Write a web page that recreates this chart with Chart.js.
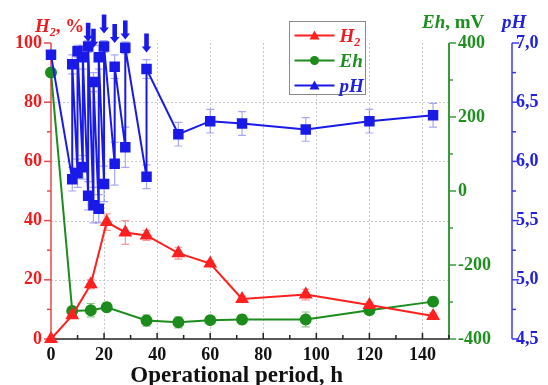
<!DOCTYPE html>
<html>
<head>
<meta charset="utf-8">
<script src="https://cdn.jsdelivr.net/npm/chart.js@4"></script>
<style>
html,body{margin:0;padding:0;background:#fff;}
#wrap{width:548px;height:385px;position:relative;}
</style>
</head>
<body>
<div id="wrap"><canvas id="c" width="548" height="385"></canvas></div>
<script>
// ---- data ----
const h2Time  = [0, 8, 15, 21, 28, 36, 48, 60, 72, 96, 120, 144];
const h2Value = [0, 8, 18.5, 39.5, 36, 35, 29, 25.5, 13.5, 15, 11.5, 7.8];
const h2Error = [0, 1, 1.5, 2.8, 4, 1.7, 2, 1, 1, 1.8, 1, 1];

const ehTime  = [0, 8, 15, 21, 36, 48, 60, 72, 96, 120, 144];
const ehValue = [320, -324, -322, -314, -350, -355, -349, -347, -347, -322, -299];
const ehError = [0, 8, 18, 12, 15, 15, 10, 12, 20, 10, 12];

const phTime  = [0, 8, 8, 10, 10, 12, 12, 14, 14, 16, 16, 18, 18, 20, 20, 24, 24, 28, 28, 36, 36, 48, 60, 72, 96, 120, 144];
const phValue = [6.90, 5.85, 6.82, 5.90, 6.93, 5.95, 6.88, 5.71, 6.97, 5.63, 6.67, 5.60, 6.88, 5.81, 6.97, 5.98, 6.80, 6.12, 6.96, 5.87, 6.78, 6.23, 6.34, 6.32, 6.27, 6.34, 6.39];
const phError = [0.03, 0.1, 0.08, 0.12, 0.05, 0.1, 0.1, 0.12, 0.05, 0.15, 0.08, 0.12, 0.1, 0.15, 0.05, 0.18, 0.1, 0.17, 0.05, 0.1, 0.08, 0.1, 0.1, 0.1, 0.1, 0.1, 0.1];

// alkali additions (arrows): time and arrow tip level on pH scale
const alkaliTime = [14, 16, 20, 24, 28, 36];
const arrowTipPH = [7.01, 6.96, 7.08, 7.00, 7.03, 6.92];

const xTicks  = [0, 20, 40, 60, 80, 100, 120, 140];
const h2Ticks = [0, 20, 40, 60, 80, 100];
const ehTicks = [-400, -200, 0, 200, 400];
const phTicks = [4.5, 5.0, 5.5, 6.0, 6.5, 7.0];

// ---- styles ----
const RED = '#ff2020', GREEN = '#1c8c1c', BLUE = '#1a1ae8';
const RED_AX = '#e8484a', GREEN_AX = '#3a9a3a', BLUE_AX = '#3a3af0';
const SERIF = "'Liberation Serif', 'Times New Roman', serif";
const tickFont = {family: SERIF, size: 18, weight: 'bold'};

const pts = (t, v) => t.map((x, i) => ({x: x, y: v[i]}));

function drawRich(ctx, x, y, parts, align) {
  let w = 0;
  parts.forEach(p => { ctx.font = p.font; w += ctx.measureText(p.t).width; });
  let cx = align === 'center' ? x - w / 2 : x;
  parts.forEach(p => {
    ctx.font = p.font;
    ctx.fillText(p.t, cx, y + (p.dy || 0));
    cx += ctx.measureText(p.t).width;
  });
}

const decor = {
  id: 'decor',
  beforeDatasetsDraw(chart) {
    const {ctx, chartArea: a, scales} = chart;
    const xs = scales.x, ys = scales.y, es = scales.eh, ps = scales.ph;
    ctx.save();
    // dotted grid
    ctx.strokeStyle = '#c9c9c9'; ctx.lineWidth = 1; ctx.setLineDash([2, 2]);
    xTicks.forEach(v => { if (v === 0) return; const px = Math.round(xs.getPixelForValue(v)) + 0.5;
      ctx.beginPath(); ctx.moveTo(px, a.top); ctx.lineTo(px, a.bottom); ctx.stroke(); });
    h2Ticks.forEach(v => { if (v === 0 || v === 100) return; const py = Math.round(ys.getPixelForValue(v)) + 0.5;
      ctx.beginPath(); ctx.moveTo(a.left, py); ctx.lineTo(a.right, py); ctx.stroke(); });
    ctx.setLineDash([]);

    // axes lines and ticks
    function vAxis(px, scale, majors, color, dir, w) {
      ctx.strokeStyle = color; ctx.lineWidth = w;
      ctx.beginPath(); ctx.moveTo(px, a.top); ctx.lineTo(px, a.bottom); ctx.stroke();
      ctx.lineWidth = 1.5;
      majors.forEach((v, i) => {
        const py = scale.getPixelForValue(v);
        ctx.beginPath(); ctx.moveTo(px, py); ctx.lineTo(px + dir * 7, py); ctx.stroke();
        if (i < majors.length - 1) {
          const pm = scale.getPixelForValue((v + majors[i + 1]) / 2);
          ctx.beginPath(); ctx.moveTo(px, pm); ctx.lineTo(px + dir * 4, pm); ctx.stroke();
        }
      });
    }
    vAxis(a.left, ys, h2Ticks, RED_AX, -1, 1.5);
    vAxis(a.right, es, ehTicks, GREEN_AX, 1, 2);
    vAxis(a.right + 63, ps, phTicks, BLUE_AX, 1, 1.5);
    // x axis
    ctx.strokeStyle = '#222'; ctx.lineWidth = 1.5;
    ctx.beginPath(); ctx.moveTo(a.left, a.bottom); ctx.lineTo(a.right, a.bottom); ctx.stroke();
    xTicks.forEach(v => {
      const px = xs.getPixelForValue(v);
      ctx.beginPath(); ctx.moveTo(px, a.bottom); ctx.lineTo(px, a.bottom - 6); ctx.stroke();
      const pm = xs.getPixelForValue(v + 10);
      ctx.beginPath(); ctx.moveTo(pm, a.bottom); ctx.lineTo(pm, a.bottom - 4); ctx.stroke();
    });

    // error bars
    function errBars(times, vals, errs, scale, color) {
      ctx.strokeStyle = color; ctx.lineWidth = 1.2;
      times.forEach((t, i) => {
        if (!errs[i]) return;
        const px = xs.getPixelForValue(t);
        const y1 = scale.getPixelForValue(vals[i] - errs[i]);
        const y2 = scale.getPixelForValue(vals[i] + errs[i]);
        ctx.beginPath();
        ctx.moveTo(px, y1); ctx.lineTo(px, y2);
        ctx.moveTo(px - 4, y1); ctx.lineTo(px + 4, y1);
        ctx.moveTo(px - 4, y2); ctx.lineTo(px + 4, y2);
        ctx.stroke();
      });
    }
    errBars(ehTime, ehValue, ehError, es, 'rgba(40,150,40,0.55)');
    errBars(h2Time, h2Value, h2Error, ys, 'rgba(240,70,70,0.55)');
    errBars(phTime, phValue, phError, ps, 'rgba(60,60,235,0.45)');
    ctx.restore();
  },
  afterDraw(chart) {
    const {ctx, chartArea: a, scales} = chart;
    const xs = scales.x, ps = scales.ph;
    ctx.save();
    // arrows
    ctx.fillStyle = BLUE;
    alkaliTime.forEach((t, i) => {
      const x = xs.getPixelForValue(t);
      const tip = ps.getPixelForValue(arrowTipPH[i]);
      ctx.fillRect(x - 2.3, tip - 19, 4.6, 14);
      ctx.beginPath(); ctx.moveTo(x - 4.8, tip - 6); ctx.lineTo(x + 4.8, tip - 6); ctx.lineTo(x, tip); ctx.closePath(); ctx.fill();
    });

    // axis titles
    ctx.textBaseline = 'alphabetic';
    const bi = sz => 'italic bold ' + sz + 'px ' + SERIF;
    const b = sz => 'bold ' + sz + 'px ' + SERIF;
    ctx.fillStyle = '#ee1c1c';
    drawRich(ctx, 35, 32, [{t: 'H', font: bi(19)}, {t: '2', font: bi(12), dy: 4}, {t: ', %', font: b(19)}]);
    ctx.fillStyle = '#1f8f1f';
    drawRich(ctx, 422, 28, [{t: 'Eh', font: bi(19)}, {t: ', mV', font: b(19)}]);
    ctx.fillStyle = '#2020e0';
    drawRich(ctx, 502, 28, [{t: 'pH', font: bi(19)}]);
    // x title
    ctx.fillStyle = '#111';
    drawRich(ctx, xs.getPixelForValue(70), 382, [{t: 'Operational period, h', font: b(23)}], 'center');

    // legend
    const L = {x: 289.5, y: 21.5, w: 76, h: 73};
    ctx.strokeStyle = '#8a8a8a'; ctx.lineWidth = 1;
    ctx.fillStyle = '#fff';
    ctx.fillRect(L.x, L.y, L.w, L.h);
    ctx.strokeRect(L.x, L.y, L.w, L.h);
    const rows = [
      {parts: [{t: 'H', font: bi(19)}, {t: '2', font: bi(12), dy: 4}], color: RED, textColor: '#ee1c1c', marker: 'tri'},
      {parts: [{t: 'Eh', font: bi(19)}], color: GREEN, textColor: '#1f8f1f', marker: 'circ'},
      {parts: [{t: 'pH', font: bi(19)}], color: BLUE, textColor: '#2020e0', marker: 'tri'}
    ];
    rows.forEach((r, i) => {
      const cy = L.y + 14 + i * 25;
      ctx.strokeStyle = r.color; ctx.lineWidth = 2;
      ctx.beginPath(); ctx.moveTo(L.x + 5, cy); ctx.lineTo(L.x + 45, cy); ctx.stroke();
      ctx.fillStyle = r.color;
      const mx = L.x + 25;
      ctx.beginPath();
      if (r.marker === 'tri') { ctx.moveTo(mx, cy - 5); ctx.lineTo(mx + 5, cy + 4); ctx.lineTo(mx - 5, cy + 4); ctx.closePath(); }
      else { ctx.arc(mx, cy, 4.5, 0, Math.PI * 2); }
      ctx.fill();
      ctx.fillStyle = r.textColor;
      drawRich(ctx, L.x + 50, cy + 6, r.parts);
    });
    ctx.restore();
  }
};

const chart = new Chart(document.getElementById('c'), {
  type: 'line',
  data: {
    datasets: [
      {label: 'pH', data: pts(phTime, phValue), yAxisID: 'ph', borderColor: BLUE, backgroundColor: BLUE,
       pointStyle: 'rect', pointRadius: 6, borderWidth: 2, tension: 0, order: 0, clip: false},
      {label: 'H2', data: pts(h2Time, h2Value), yAxisID: 'y', borderColor: RED, backgroundColor: RED,
       pointStyle: 'triangle', pointRadius: 6, borderWidth: 2, tension: 0, order: 1, clip: false},
      {label: 'Eh', data: pts(ehTime, ehValue), yAxisID: 'eh', borderColor: GREEN, backgroundColor: GREEN,
       pointStyle: 'circle', pointRadius: 5, borderWidth: 2, tension: 0, order: 2, clip: false}
    ]
  },
  options: {
    responsive: false,
    animation: false,
    events: [],
    layout: {padding: {top: 43, left: 0, right: 0, bottom: 0}},
    plugins: {legend: {display: false}, tooltip: {enabled: false}},
    elements: {point: {borderWidth: 0}},
    scales: {
      x: {type: 'linear', position: 'bottom', min: 0, max: 150,
          grid: {display: false, drawTicks: false}, border: {display: false},
          ticks: {stepSize: 20, font: tickFont, color: '#111', padding: 6, maxRotation: 0},
          afterBuildTicks: s => { s.ticks = xTicks.map(v => ({value: v})); },
          afterFit: s => { s.height = 46; }},
      y: {type: 'linear', position: 'left', min: 0, max: 100,
          grid: {display: false, drawTicks: false}, border: {display: false},
          ticks: {font: tickFont, color: '#ee1c1c', padding: 9},
          afterBuildTicks: s => { s.ticks = h2Ticks.map(v => ({value: v})); },
          afterFit: s => { s.width = 51; }},
      eh: {type: 'linear', position: 'right', weight: 0, min: -400, max: 400,
           grid: {display: false, drawTicks: false}, border: {display: false},
           ticks: {font: tickFont, color: '#1f8f1f', padding: 9},
           afterBuildTicks: s => { s.ticks = ehTicks.map(v => ({value: v})); },
           afterFit: s => { s.width = 63; }},
      ph: {type: 'linear', position: 'right', weight: 1, min: 4.5, max: 7,
           grid: {display: false, drawTicks: false}, border: {display: false},
           ticks: {font: tickFont, color: '#2020e0', padding: 4,
                   callback: v => v.toFixed(1).replace('.', ',')},
           afterBuildTicks: s => { s.ticks = phTicks.map(v => ({value: v})); },
           afterFit: s => { s.width = 36; }}
    }
  },
  plugins: [decor]
});
</script>
</body>
</html>
